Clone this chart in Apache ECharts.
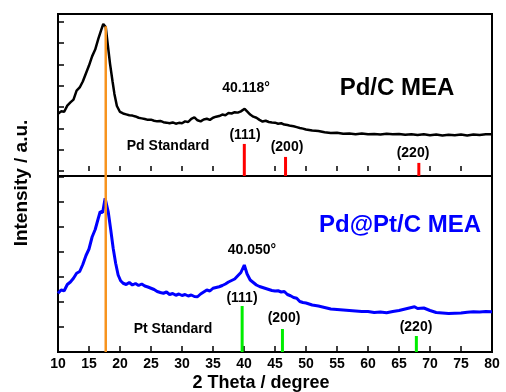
<!DOCTYPE html>
<html>
<head>
<meta charset="utf-8">
<script src="https://cdn.jsdelivr.net/npm/echarts@6/dist/echarts.min.js"></script>
<style>
  html, body { margin: 0; padding: 0; background: #fff; }
  #chart { width: 506px; height: 392px; }
</style>
</head>
<body>
<div id="chart"></div>
<script>
// Pd/C MEA pattern (top panel), intensity in tick units
const thetaPdC = [10.0, 10.5, 11.0, 11.5, 12.0, 12.5, 13.0, 13.5, 14.0, 14.5, 15.0, 15.5, 16.0, 16.5, 17.0, 17.3, 17.7, 18.0, 18.4, 18.8, 19.1, 19.5,
  20.0, 20.5, 21.0, 21.5, 22.0, 22.5, 23.0, 23.5, 24.0, 24.5, 25.0, 25.5, 26.0, 26.5, 27.0, 27.5, 28.0, 28.5, 29.0, 29.5,
  30.0, 30.5, 31.0, 31.5, 32.0, 32.5, 33.0, 33.5, 34.0, 34.5, 35.0, 35.5, 36.0, 36.5, 37.0, 37.5, 38.0, 38.5, 39.0, 39.5,
  40.1, 40.5, 41.0, 41.5, 42.0, 42.5, 43.0, 43.5, 44.0, 44.5, 45.0, 45.5, 46.0, 46.5, 47.0, 47.5, 48.0, 48.5, 49.0, 49.5,
  50, 51, 52, 53, 54, 55, 56, 57, 58, 59, 60, 61, 62, 63, 64, 65, 66, 67, 68, 69, 70, 71, 72, 73, 74, 75, 76, 77, 78, 79, 80];
const intPdC = [2.68, 2.80, 2.78, 3.07, 3.22, 3.35, 3.77, 3.92, 4.20, 4.58, 4.95, 5.38, 5.70, 6.20, 6.65, 6.90, 6.76, 6.00, 5.02, 4.20, 3.62, 3.05,
  2.77, 2.70, 2.66, 2.62, 2.60, 2.56, 2.50, 2.47, 2.44, 2.40, 2.41, 2.36, 2.33, 2.35, 2.29, 2.27, 2.24, 2.28, 2.22, 2.26,
  2.24, 2.33, 2.30, 2.45, 2.52, 2.38, 2.33, 2.42, 2.45, 2.40, 2.50, 2.55, 2.58, 2.65, 2.62, 2.72, 2.70, 2.76, 2.74, 2.80,
  2.92, 2.80, 2.65, 2.55, 2.50, 2.40, 2.32, 2.36, 2.30, 2.28, 2.27, 2.22, 2.24, 2.18, 2.16, 2.12, 2.10, 2.06, 2.02, 1.99,
  1.95, 1.90, 1.88, 1.82, 1.78, 1.80, 1.75, 1.76, 1.73, 1.76, 1.72, 1.74, 1.71, 1.75, 1.72, 1.74, 1.70, 1.73, 1.69, 1.72,
  1.68, 1.71, 1.67, 1.70, 1.68, 1.71, 1.67, 1.71, 1.69, 1.72, 1.72];

// Pd@Pt/C MEA pattern (bottom panel)
const thetaPdPt = [10.0, 10.5, 11.0, 11.5, 12.0, 12.5, 13.0, 13.5, 14.0, 14.5, 15.0, 15.5, 16.0, 16.5, 16.8, 17.2, 17.6, 18.1, 18.5, 18.9, 19.3, 19.7,
  20.1, 20.5, 21.0, 21.5, 22.0, 22.5, 23.0, 23.5, 24.0, 24.5, 25.0, 25.5, 26.0, 26.5, 27.0, 27.5, 28.0, 28.5, 29.0, 29.5,
  30.0, 30.5, 31.0, 31.5, 32.0, 32.5, 33.0, 33.5, 34.0, 34.5, 35.0, 35.5, 36.0, 36.5, 37.0, 37.5, 38.0, 38.5, 39.0, 39.5,
  40.05, 40.5, 41.0, 41.5, 42.0, 42.5, 43.0, 43.5, 44.0, 44.5, 45.0, 45.5, 46.0, 46.5, 47.0, 47.5, 48.0, 48.5, 49.0, 49.5,
  50, 51, 52, 53, 54, 55, 56, 57, 58, 59, 60, 61, 62, 63, 64, 65, 66, 67, 67.5, 68, 69, 70, 71, 72, 73, 74, 75, 76, 77, 78, 79, 80];
const intPdPt = [2.35, 2.48, 2.45, 2.70, 2.80, 2.95, 3.15, 3.22, 3.50, 3.85, 4.12, 4.60, 4.90, 5.35, 5.61, 5.58, 6.15, 5.61, 4.90, 4.15, 3.55, 3.08,
  2.85, 2.75, 2.70, 2.78, 2.68, 2.74, 2.66, 2.72, 2.64, 2.60, 2.55, 2.50, 2.42, 2.38, 2.35, 2.40, 2.30, 2.34, 2.27, 2.32,
  2.26, 2.30, 2.24, 2.28, 2.22, 2.21, 2.32, 2.40, 2.48, 2.44, 2.55, 2.58, 2.61, 2.66, 2.72, 2.80, 2.86, 2.92, 3.05, 3.18,
  3.48, 3.12, 2.88, 2.78, 2.68, 2.62, 2.58, 2.54, 2.50, 2.46, 2.44, 2.45, 2.40, 2.42, 2.30, 2.25, 2.18, 2.15, 2.02, 1.98,
  1.96, 1.88, 1.84, 1.78, 1.72, 1.70, 1.68, 1.66, 1.64, 1.62, 1.62, 1.58, 1.60, 1.57, 1.62, 1.66, 1.72, 1.78, 1.81, 1.74,
  1.76, 1.66, 1.58, 1.56, 1.54, 1.55, 1.56, 1.59, 1.61, 1.60, 1.62, 1.61];

// reference sticks
const pdStdTheta = [40.05, 46.7, 68.2];
const pdStdHeight = [1.27, 0.66, 0.38];
const ptStdTheta = [39.7, 46.2, 67.8];
const ptStdHeight = [1.84, 0.92, 0.64];
const stdLabels = ["(111)", "(200)", "(220)"];

// vertical guide at the carbon peak
const guideTheta = 17.7;
const guideTopPdC = 6.8;

const xTicks = [10, 15, 20, 25, 30, 35, 40, 45, 50, 55, 60, 65, 70, 75, 80];
const topTicks = [0, 1, 2, 3, 4, 5, 6, 7];

const TOP_MIN = -0.235, TOP_MAX = 7.37;
const BOT_MIN = 0, BOT_MAX = 7.04;
const FONT = "Liberation Sans, Arial, sans-serif";

const chart = echarts.init(document.getElementById("chart"));

function stickRender(yMin, width) {
  return function (params, api) {
    const top = api.coord([api.value(0), api.value(1)]);
    const base = api.coord([api.value(0), yMin]);
    return {
      type: "rect",
      shape: { x: top[0] - width / 2, y: top[1], width: width, height: base[1] - top[1] },
      style: { fill: api.visual("color") },
    };
  };
}

function txt(text, x, y, size, color, extra) {
  return Object.assign({
    type: "text",
    x: x,
    y: y,
    z: 10,
    style: {
      text: text,
      fill: color || "#000",
      font: `bold ${size}px ${FONT}`,
      align: "center",
      verticalAlign: "middle",
    },
  }, extra || {});
}

const xAxisCommon = {
  type: "value",
  min: 10,
  max: 80,
  interval: 5,
  axisLine: { show: false },
  splitLine: { show: false },
  axisTick: { inside: true, length: 6, lineStyle: { color: "#000", width: 1.5 } },
};

const yAxisCommon = {
  type: "value",
  axisLine: { show: false },
  splitLine: { show: false },
  axisLabel: { show: false },
};

chart.setOption({
  animation: false,
  backgroundColor: "#fff",
  grid: [
    { left: 58, right: 14, top: 14, height: 162, show: true, borderColor: "#000", borderWidth: 2, backgroundColor: "transparent" },
    { left: 58, right: 14, top: 176, height: 176, show: true, borderColor: "#000", borderWidth: 2, backgroundColor: "transparent" },
  ],
  xAxis: [
    Object.assign({}, xAxisCommon, {
      gridIndex: 0,
      axisLabel: { show: false },
      axisTick: { inside: true, length: 5, lineStyle: { color: "#000", width: 1.5 } },
    }),
    Object.assign({}, xAxisCommon, {
      gridIndex: 1,
      axisLabel: {
        color: "#000",
        fontSize: 14,
        fontWeight: "bold",
        fontFamily: FONT,
        margin: 5,
        customValues: xTicks,
      },
    }),
  ],
  yAxis: [
    Object.assign({}, yAxisCommon, {
      gridIndex: 0,
      min: TOP_MIN,
      max: TOP_MAX,
      axisTick: { inside: true, length: 6, customValues: topTicks, lineStyle: { color: "#000", width: 1.5 } },
    }),
    Object.assign({}, yAxisCommon, {
      gridIndex: 1,
      min: BOT_MIN,
      max: BOT_MAX,
      interval: 1,
      axisTick: { inside: true, length: 6, lineStyle: { color: "#000", width: 1.5 } },
    }),
  ],
  series: [
    {
      type: "line",
      xAxisIndex: 0,
      yAxisIndex: 0,
      showSymbol: false,
      data: thetaPdC.map((t, i) => [t, intPdC[i]]),
      lineStyle: { color: "#000", width: 2.5 },
      z: 3,
    },
    {
      type: "line",
      xAxisIndex: 1,
      yAxisIndex: 1,
      showSymbol: false,
      data: thetaPdPt.map((t, i) => [t, intPdPt[i]]),
      lineStyle: { color: "#0000ff", width: 3 },
      z: 3,
    },
    {
      type: "custom",
      xAxisIndex: 0,
      yAxisIndex: 0,
      renderItem: stickRender(TOP_MIN, 3),
      itemStyle: { color: "#ff0000" },
      data: pdStdTheta.map((t, i) => [t, pdStdHeight[i]]),
      z: 4,
    },
    {
      type: "custom",
      xAxisIndex: 1,
      yAxisIndex: 1,
      renderItem: stickRender(BOT_MIN, 3),
      itemStyle: { color: "#00ee00" },
      data: ptStdTheta.map((t, i) => [t, ptStdHeight[i]]),
      z: 4,
    },
    {
      type: "line",
      xAxisIndex: 0,
      yAxisIndex: 0,
      showSymbol: false,
      data: [[guideTheta, guideTopPdC], [guideTheta, TOP_MIN]],
      lineStyle: { color: "#f7931e", width: 2.5 },
      z: 5,
    },
    {
      type: "line",
      xAxisIndex: 1,
      yAxisIndex: 1,
      showSymbol: false,
      data: [[guideTheta, BOT_MAX], [guideTheta, BOT_MIN]],
      lineStyle: { color: "#f7931e", width: 2.5 },
      z: 5,
    },
  ],
  graphic: [
    txt("Pd/C MEA", 397, 88, 24),
    txt("40.118°", 246, 88, 14),
    txt("Pd Standard", 168, 146, 14),
    txt(stdLabels[0], 245, 135, 14),
    txt(stdLabels[1], 287, 147, 14),
    txt(stdLabels[2], 413, 153, 14),
    txt("Pd@Pt/C MEA", 400, 225, 24, "#0000ff"),
    txt("40.050°", 252, 250, 14),
    txt("Pt Standard", 173, 329, 14),
    txt(stdLabels[0], 242, 298, 14),
    txt(stdLabels[1], 284, 318, 14),
    txt(stdLabels[2], 416, 327, 14),
    txt("2 Theta / degree", 261, 383, 18),
    txt("Intensity / a.u.", 22, 183, 19, "#000", { rotation: Math.PI / 2 }),
  ],
});
</script>
</body>
</html>
